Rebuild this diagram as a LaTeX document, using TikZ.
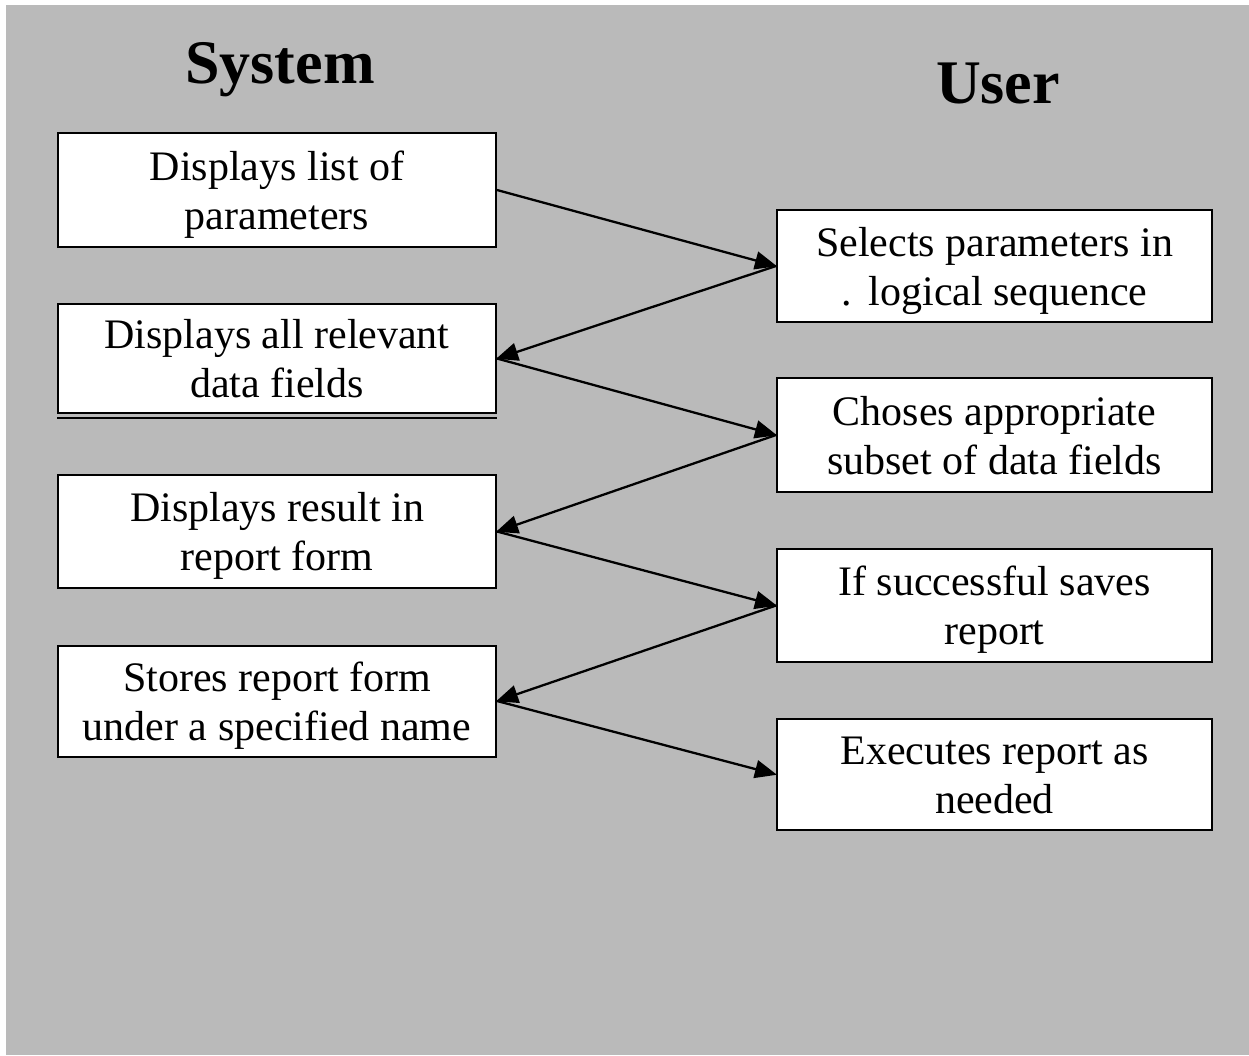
\documentclass[tikz,border=0pt]{standalone}
\usepackage{fontspec}
\setmainfont{Liberation Serif}
\usetikzlibrary{arrows.meta}

\definecolor{paper}{RGB}{186,186,186}

% struts that fix the first baseline and the bottom of every two-line label
\newcommand\tophold{\rule{0pt}{44pt}}
\newcommand\bothold{\rule[-15pt]{0pt}{15pt}}
\newcommand\twolines[2]{\tophold#1\\#2\bothold}

\tikzset{
  box/.style={draw=black, line width=2pt, fill=white, rectangle,
    inner sep=0pt, align=center,
    font=\fontsize{42}{49}\selectfont},
  sysbox/.style={box, minimum width=438pt},
  userbox/.style={box, minimum width=435pt},
  heading/.style={anchor=base, inner sep=0pt,
    font=\fontsize{62}{62}\selectfont\bfseries},
  flow/.style={line width=2.3pt,
    -{Triangle[length=22pt, width=18pt]}, shorten >=-1pt}
}

\begin{document}
\begin{tikzpicture}[x=1pt, y=-1pt]
  \useasboundingbox (0,0) rectangle (1249,1055);
  \fill[white] (0,0) rectangle (1249,1055);
  \fill[paper] (6,5) rectangle (1249,1055);

  % column headings
  \node[heading] (hsys) at (280,83) {System};
  \node[heading] (husr) at (998,103) {User};

  % system steps
  \node[sysbox, minimum height=114pt] (s1) at (277,190)   {\twolines{Displays list of}{parameters}};
  \node[sysbox, minimum height=109pt] (s2) at (277,358.5) {\twolines{Displays all relevant}{data fields}};
  \node[sysbox, minimum height=113pt] (s3) at (277,531.5) {\twolines{Displays result in}{report form}};
  \node[sysbox, minimum height=111pt] (s4) at (277,701)   {\twolines{Stores report form}{under a specified name}};
  % second rule under the data-fields box
  \draw[line width=2pt] ([yshift=-4pt]s2.south west) -- ([yshift=-4pt]s2.south east);

  % user steps
  \node[userbox, minimum height=112pt] (u1) at (994.5,266)   {\twolines{Selects parameters in}{.\hspace{0.4em}logical sequence}};
  \node[userbox, minimum height=114pt] (u2) at (994.5,435)   {\twolines{Choses appropriate}{subset of data fields}};
  \node[userbox, minimum height=113pt] (u3) at (994.5,605.5) {\twolines{If successful saves}{report}};
  \node[userbox, minimum height=111pt] (u4) at (994.5,774.5) {\twolines{Executes report as}{needed}};

  % interaction flow
  \draw[flow] (s1.east) -- (u1.west);
  \draw[flow] (u1.west) -- (s2.east);
  \draw[flow] (s2.east) -- (u2.west);
  \draw[flow] (u2.west) -- (s3.east);
  \draw[flow] (s3.east) -- (u3.west);
  \draw[flow] (u3.west) -- (s4.east);
  \draw[flow] (s4.east) -- (u4.west);
\end{tikzpicture}
\end{document}
